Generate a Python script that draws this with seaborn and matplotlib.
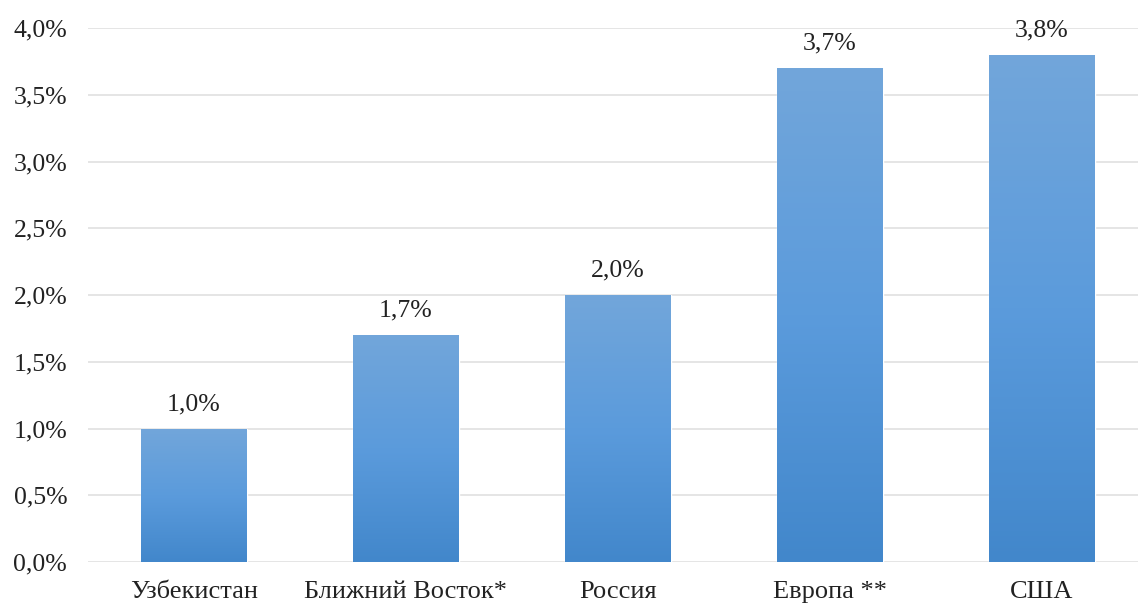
import numpy as np
import pandas as pd
import seaborn as sns
import matplotlib.pyplot as plt
from matplotlib.colors import LinearSegmentedColormap

# данные
strany = ["Узбекистан", "Ближний Восток*", "Россия", "Европа **", "США"]
znacheniya = [1.0, 1.7, 2.0, 3.7, 3.8]
yticks = [0.0, 0.5, 1.0, 1.5, 2.0, 2.5, 3.0, 3.5, 4.0]

df = pd.DataFrame({"strana": strany, "value": znacheniya})

sns.set_style("white")
plt.rcParams['font.family'] = ['Liberation Serif', 'DejaVu Serif']

fig = plt.figure(figsize=(11.38, 6.07), dpi=100)
ax = fig.add_axes([88 / 1138, 45 / 607, 1 - 88 / 1138, (562 - 28) / 607])

sns.barplot(data=df, x="strana", y="value", color="#5b9bdc", width=0.5, ax=ax,
            saturation=1, zorder=2)

# градиент на столбиках
cmap = LinearSegmentedColormap.from_list("grad", ["#4287cb", "#5b9bdc", "#72a6da"])
grad = np.linspace(0, 1, 256).reshape(-1, 1)
for p in ax.patches:
    x0, w, h = p.get_x(), p.get_width(), p.get_height()
    im = ax.imshow(grad, cmap=cmap, aspect="auto", origin="lower",
                   extent=[x0, x0 + w, 0, h], zorder=3)
    im.set_clip_path(p)
    ax.text(x0 + w / 2, h + 0.1, f"{h:.1f}%".replace(".", ","),
            ha="center", va="bottom", fontsize=18.5, color="#222222", zorder=4)

ax.set_xlim(-0.5, 4.453)
ax.set_ylim(0, 4.0)
ax.set_yticks(yticks)
ax.set_yticklabels([f"{v:.1f}%".replace(".", ",") for v in yticks], fontsize=18.5, color="#222222")
ax.tick_params(axis="x", labelsize=19, labelcolor="#222222", length=0, pad=14)
ax.tick_params(axis="y", length=0, pad=15)
ax.yaxis.grid(True, color="#e0e0e0", linewidth=1.2, zorder=0)
ax.set_axisbelow(True)
for s in ax.spines.values():
    s.set_visible(False)
ax.set_xlabel("")
ax.set_ylabel("")

fig.savefig("out.png", dpi=100)
